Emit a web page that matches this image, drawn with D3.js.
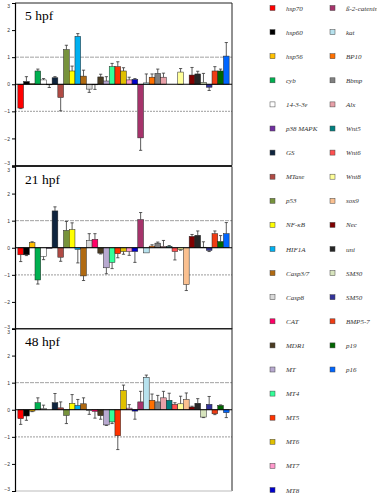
<!DOCTYPE html>
<html>
<head>
<meta charset="utf-8">
<script src="https://cdn.jsdelivr.net/npm/d3@7"></script>
<style>
  body { margin: 0; background: #fff; }
  svg { display: block; }
</style>
</head>
<body>
<div id="chart"></div>
<script>
// genes in legend / bar order
const genes = ["hsp70", "hsp60", "hsp56", "cyb", "14-3-3ε", "p38 MAPK", "GS", "MTase", "p53", "NF-κB",
  "HIF1A", "Casp3/7", "Casp8", "CAT", "MDR1", "MT", "MT4", "MT5", "MT6", "MT7", "MT8",
  "ß-2-catenin", "kat", "BP10", "Bbmp", "Alx", "Wnt5", "Wnt6", "Wnt8", "sox9", "Nec", "uni",
  "SM30", "SM50", "BMP5-7", "p19", "p16"]
const colors = ["#ff0000", "#000000", "#ffc000", "#00b050", "#ffffff", "#7030a0", "#0f243e", "#b04a44", "#77933c", "#ffff00",
  "#00b0f0", "#b06a12", "#d9d9d9", "#ff0066", "#4a3b22", "#b8a9d0", "#33ff99", "#ff3300", "#e0c000", "#ff99cc", "#0000cc",
  "#a6336b", "#b7e2ee", "#ff7000", "#808080", "#e8a0a8", "#008080", "#ff5050", "#ffff99", "#fac090", "#7f0000", "#262626",
  "#d7e4bd", "#333399", "#f03c14", "#006600", "#0066ff"]

const panels = ["5 hpf", "21 hpf", "48 hpf"]
const v5 = [-0.88, 0.1, 0.02, 0.49, 0.16, -0.02, 0.24, -0.49, 1.28, 0.49, 1.77, 0.3, -0.18, -0.02, 0.27, 0.12, 0.65, 0.65, 0.49, 0.16, 0.18,
  -1.98, 0.05, 0.26, 0.4, 0.26, 0, 0, 0.45, 0, 0.34, 0.38, 0.07, -0.11, 0.49, 0.49, 1.04]
const e5 = [0.02, 0.18, 0, 0.07, 0.05, 0.1, 0.04, 0.49, 0.16, 0.18, 0.1, 0.22, 0.12, 0.17, 0.1, 0.16, 0.12, 0.18, 0.12, 0.1, 0.03,
  0.46, 0.33, 0.12, 0.16, 0.15, 0, 0, 0.13, 0, 0.28, 0.1, 0.33, 0.12, 0.16, 0.07, 0.5]
const v21 = [-0.26, -0.26, 0.19, -1.19, -0.32, -0.02, 1.36, -0.35, 0.64, 0.67, -0.06, -1.04, 0.27, 0.31, -0.2, -0.74, -0.54, -0.22, -0.14, -0.14, -0.14,
  1.04, -0.19, 0.06, 0.17, 0.05, 0.05, -0.14, -0.07, -1.36, 0.42, 0.46, 0.02, -0.1, 0.52, 0.23, 0.52]
const e21 = [0.25, 0.03, 0.03, 0.15, 0.12, 0, 0.15, 0.15, 0.33, 0.25, 0.5, 0.17, 0.25, 0.21, 0.03, 0.22, 0.23, 0.15, 0.1, 0.14, 0.4,
  0.26, 0, 0.05, 0.04, 0.22, 0.03, 0.31, 0.02, 0.22, 0.07, 0.16, 0.2, 0.04, 0.1, 0.22, 0.41]
const v48 = [-0.33, -0.23, -0.05, 0.26, 0.05, 0, 0.26, 0.07, -0.21, 0.24, 0.16, 0.22, -0.03, -0.06, -0.22, -0.56, -0.45, -0.96, 0.71, 0.06, -0.05,
  0.29, 1.2, 0.35, 0.29, 0.44, 0.35, 0.2, 0.22, 0.38, 0.1, 0.24, -0.27, 0.2, -0.15, 0.16, -0.11]
const e48 = [0.21, 0.16, 0.02, 0.18, 0.12, 0, 0.34, 0.22, 0.3, 0.32, 0.22, 0.22, 0.14, 0.25, 0.13, 0.02, 0.06, 0.51, 0.2, 0.13, 0.3,
  0.39, 0.08, 0.23, 0.24, 0.24, 0.26, 0.06, 0.28, 0.24, 0.03, 0.17, 0.02, 0.29, 0.03, 0.02, 0.18]
const yTicks = [-3, -2, -1, 0, 1, 2, 3]

const values = [v5, v21, v48]
const errors = [e5, e21, e48]

const width = 377, height = 500
const left = 15, right = 232
const panelTops = [3, 166.5, 328.5]
const panelH = 162.5

const svg = d3.select("#chart").append("svg")
  .attr("width", width)
  .attr("height", height)

const x = d3.scaleBand()
  .domain(genes)
  .range([left, right])
  .paddingInner(0)
  .paddingOuter(0.5)

panels.forEach((title, p) => {
  const top = panelTops[p]
  const y = d3.scaleLinear().domain([-3, 3]).range([top + panelH, top])
  const g = svg.append("g")
  const vals = values[p], errs = errors[p]

  // gridlines at +/-1
  g.append("line")
    .attr("x1", left).attr("x2", right)
    .attr("y1", y(1)).attr("y2", y(1))
    .attr("stroke", "#8a8a8a").attr("stroke-width", 0.8)
    .attr("stroke-dasharray", "4,1")
  g.append("line")
    .attr("x1", left).attr("x2", right)
    .attr("y1", y(-1)).attr("y2", y(-1))
    .attr("stroke", "#b0b0b0").attr("stroke-width", 1.4)
    .attr("stroke-dasharray", "2,1")

  // frame
  g.append("line")
    .attr("x1", left).attr("x2", right)
    .attr("y1", y(3)).attr("y2", y(3))
    .attr("stroke", "#222").attr("stroke-width", 1)
  g.append("line")
    .attr("x1", right).attr("x2", right)
    .attr("y1", y(3)).attr("y2", y(-3))
    .attr("stroke", "#222").attr("stroke-width", 1)
  g.append("line")
    .attr("x1", left).attr("x2", right)
    .attr("y1", y(-3)).attr("y2", y(-3))
    .attr("stroke", p === 2 ? "#bbb" : "#222").attr("stroke-width", 1)

  // bars
  g.selectAll("rect.bar")
    .data(genes)
    .join("rect")
    .attr("class", "bar")
    .attr("x", d => x(d))
    .attr("width", x.bandwidth())
    .attr("y", (d, i) => y(Math.max(0, vals[i])))
    .attr("height", (d, i) => Math.abs(y(vals[i]) - y(0)))
    .attr("fill", (d, i) => colors[i])
    .attr("stroke", "#222")
    .attr("stroke-width", 0.5)

  // error bars (one-sided, away from zero)
  const eb = g.selectAll("g.err")
    .data(genes.map((d, i) => ({ gene: d, v: vals[i], e: errs[i] })).filter(d => d.e > 0))
    .join("g")
    .attr("class", "err")
  const end = d => y(d.v + (d.v < 0 ? -d.e : d.e))
  eb.append("line")
    .attr("x1", d => x(d.gene) + x.bandwidth() / 2)
    .attr("x2", d => x(d.gene) + x.bandwidth() / 2)
    .attr("y1", d => y(d.v))
    .attr("y2", end)
    .attr("stroke", "#333").attr("stroke-width", 0.8)
  eb.append("line")
    .attr("x1", d => x(d.gene) + x.bandwidth() / 2 - 1.6)
    .attr("x2", d => x(d.gene) + x.bandwidth() / 2 + 1.6)
    .attr("y1", end)
    .attr("y2", end)
    .attr("stroke", "#333").attr("stroke-width", 0.8)

  // zero line
  g.append("line")
    .attr("x1", left).attr("x2", right)
    .attr("y1", y(0)).attr("y2", y(0))
    .attr("stroke", "#000").attr("stroke-width", 1)

  // y axis
  const axis = g.append("g")
    .attr("transform", `translate(${left},0)`)
    .call(d3.axisLeft(y).tickValues(yTicks).tickSize(3).tickPadding(2).tickFormat(d3.format("d")))
  axis.select(".domain").attr("stroke", "#000").attr("stroke-width", 1.2)
  axis.selectAll(".tick line").attr("stroke", "#000")
  axis.selectAll(".tick text")
    .attr("font-family", "Liberation Sans, Arial, sans-serif")
    .attr("font-size", 5)
    .attr("fill", "#333")
    // keep the end labels of stacked panels apart
    .attr("dy", d => d === 3 ? "0.9em" : d === -3 ? "-0.2em" : "0.32em")

  // panel title
  g.append("text")
    .attr("x", 25)
    .attr("y", top + 17)
    .attr("font-family", "Liberation Serif, Times New Roman, serif")
    .attr("font-size", 13.5)
    .attr("fill", "#000")
    .text(title)
})

// legend: two columns, first 21 then 16
const legend = svg.append("g")
const rowY = d3.scaleLinear().domain([0, 20]).range([8, 490])
const leg = legend.selectAll("g.item")
  .data(genes)
  .join("g")
  .attr("class", "item")
  .attr("transform", (d, i) => {
    const col = i < 21 ? 0 : 1
    const row = i < 21 ? i : i - 21
    return `translate(${col === 0 ? 270 : 330},${rowY(row)})`
  })
leg.append("rect")
  .attr("x", 0).attr("y", -2.5)
  .attr("width", 5).attr("height", 5)
  .attr("fill", (d, i) => colors[i])
  .attr("stroke", "#444").attr("stroke-width", 0.5)
leg.append("text")
  .attr("x", 16)
  .attr("y", 2.5)
  .attr("font-family", "Liberation Serif, Times New Roman, serif")
  .attr("font-style", "italic")
  .attr("font-size", 7)
  .attr("fill", "#333")
  .text(d => d)
</script>
</body>
</html>
